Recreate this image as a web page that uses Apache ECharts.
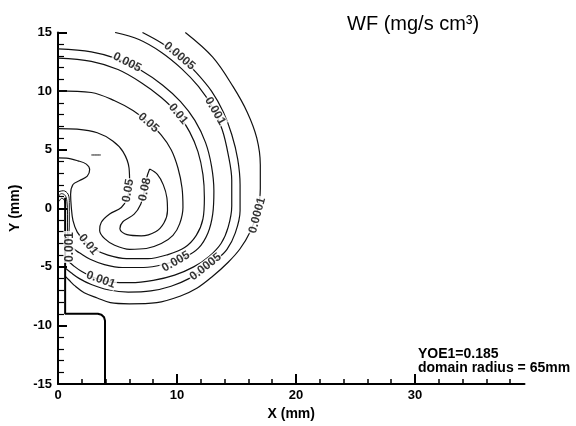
<!DOCTYPE html>
<html><head><meta charset="utf-8">
<script src="https://cdn.jsdelivr.net/npm/echarts@6/dist/echarts.min.js"></script>
<style>html,body{margin:0;padding:0;background:#fff}#c{width:576px;height:426px}</style>
</head><body><div id="c"></div>
<script>
// ---- axis ticks ----
const xTickValues = [0, 10, 20, 30];
const xMinorTickValues = [2, 4, 6, 8, 12, 14, 16, 18, 22, 24, 26, 28, 32, 34, 36, 38];
const yTickValues = [-15, -10, -5, 0, 5, 10, 15];

// ---- contour lines (x mm, y mm) ----
const c0p0001 = [[10.7,15],[13.0,12.9],[14.7,10.4],[15.9,8.2],[16.7,6.0],[17.0,3.7],[17.0,1.7],[16.75,-0.3],[16.15,-2.0],[15.3,-3.45],[14.3,-4.6],[13.0,-5.8],[11.7,-6.8],[10.25,-7.5],[8.3,-8.05],[6.0,-8.15],[4.4,-8.05],[3.3,-7.65],[2.2,-7.2],[1.4,-6.6],[0.9,-6.1],[0.6,-5.8]];
const c0p0005 = [[7.1,15],[8.7,14.1],[10.2,13.0],[11.6,11.6],[12.9,10.0],[13.9,8.2],[14.6,6.3],[15.1,4.2],[15.3,2.0],[15.3,-0.2],[14.9,-2.1],[14.2,-3.5],[13.3,-4.4],[12.4,-5.05],[11.0,-6.0],[9.5,-6.65],[7.8,-7.05],[5.9,-7.15],[4.2,-6.95],[2.8,-6.5],[1.8,-6.0],[1.1,-5.5],[0.6,-5.1]];
const c0p001 = [[4.8,15],[6.8,14.4],[8.7,13.3],[10.4,11.9],[11.8,10.4],[13.0,8.6],[13.8,6.7],[14.3,4.6],[14.6,2.4],[14.6,0.2],[14.3,-1.6],[13.7,-3.0],[12.7,-4.1],[11.4,-5.0],[9.8,-5.7],[8.0,-6.15],[6.1,-6.35],[4.5,-6.3],[3.1,-5.95],[2.0,-5.4],[1.3,-4.9],[0.85,-4.5],[0.6,-4.3]];
const c0p005 = [[0,13.6],[2.8,13.35],[5.0,12.75],[7.0,11.75],[8.8,10.5],[10.3,9.1],[11.5,7.5],[12.4,5.6],[12.9,3.6],[13.1,1.5],[13.0,-0.5],[12.6,-2.1],[11.8,-3.4],[10.6,-4.2],[9.0,-4.75],[7.2,-5.05],[5.4,-5.05],[3.9,-4.8],[2.7,-4.35],[1.8,-3.8],[1.2,-3.4],[0.6,-3.2]];
const c0p01 = [[0,12.82],[2.8,12.54],[5.04,11.84],[7.0,10.72],[8.68,9.46],[10.08,8.06],[11.06,6.52],[11.76,4.84],[12.18,2.88],[12.3,0.91],[12.18,-0.91],[11.62,-2.31],[10.64,-3.35],[9.24,-3.95],[7.56,-4.3],[5.74,-4.3],[4.2,-4.0],[3.08,-3.5],[2.24,-2.8],[1.62,-2.03],[1.26,-1.05],[1.12,0.07],[1.06,1.19],[1.26,2.03],[1.82,2.37],[2.46,2.74],[2.66,3.3],[2.38,3.77],[1.68,4.05],[0.7,4.28],[0,4.3]];
const c0p05 = [[0,10.02],[2.8,9.88],[4.76,9.18],[6.3,8.34],[7.56,7.36],[8.68,6.24],[9.52,4.98],[10.08,3.44],[10.42,1.75],[10.5,0.07],[10.22,-1.33],[9.66,-2.31],[8.68,-3.01],[7.42,-3.43],[6.02,-3.5],[4.76,-3.15],[3.92,-2.59],[3.5,-1.89],[3.64,-1.19],[4.34,-0.49],[5.32,0.07],[5.83,0.91],[6.02,2.03],[5.97,3.44],[5.46,4.84],[4.6,5.75],[3.3,6.45],[1.6,6.75],[0,6.8]];
const c0p08 = [[7.7,3.35],[8.35,2.9],[8.85,2.0],[9.15,0.9],[9.2,-0.2],[8.9,-1.25],[8.2,-2.0],[7.0,-2.35],[5.8,-2.25],[5.2,-1.75],[5.45,-1.15],[6.4,-0.5],[6.95,0.35],[7.25,1.45],[7.45,2.6],[7.7,3.35]];
const tipA = [[0,1.0],[0.3,1.25],[0.6,1.1],[0.75,0.6],[0.8,-0.5],[0.8,-2.0],[0.75,-2.8],[0.6,-3.0]];
const tipB = [[0.1,0.6],[0.3,0.85],[0.5,0.75],[0.6,0.4]];
const tipC = [[0,1.4],[0.45,1.5],[0.85,1.2],[0.95,0.5],[0.95,-1.0],[0.92,-2.2],[0.8,-2.9],[0.6,-3.1]];
const fragment = [[2.8,4.55],[3.6,4.55]];

// ---- nozzle / wall outline ----
const nozzle = [[0.6,0.9],[0.6,-9],[3.35,-9],[3.65,-9.08],[3.87,-9.3],[3.95,-9.6],[3.95,-15]];

// ---- contour labels: text, x, y, angle ----
const contourLabels = [
  ['0.0001', 16.75, -0.6, 75],
  ['0.0005', 10.2, 13.0, -40],
  ['0.001', 13.2, 8.3, -60],
  ['0.005', 5.8, 12.45, -27],
  ['0.01', 10.1, 8.05, -50],
  ['0.05', 7.6, 7.3, -42],
  ['0.05', 5.9, 1.5, 80],
  ['0.08', 7.3, 1.6, 78],
  ['0.01', 2.55, -3.1, -50],
  ['0.001', 3.6, -6.1, -20],
  ['0.005', 9.9, -4.55, 30],
  ['0.0005', 12.4, -5.0, 38],
  ['0.001', 0.95, -3.3, 90]
];

const FONT = 'Liberation Sans, Arial, sans-serif';
const chart = echarts.init(document.getElementById('c'), null, {renderer: 'canvas'});

function contour(data, w) {
  return {type: 'line', data: data, symbol: 'none', smooth: 0.35, silent: true,
    lineStyle: {color: '#111', width: w || 1.2}, z: 2};
}

chart.setOption({
  animation: false,
  backgroundColor: '#fff',
  grid: {left: 58, right: 51.5, top: 32.5, bottom: 36.5},
  xAxis: [{
    type: 'value', min: 0, max: 39.2, interval: 10,
    axisLine: {onZero: false, lineStyle: {color: '#000', width: 2}},
    axisTick: {inside: true, length: 10, customValues: xTickValues, lineStyle: {color: '#000', width: 2}},
    minorTick: {show: false},
    axisLabel: {customValues: xTickValues, color: '#000', fontSize: 13, fontWeight: 'bold', fontFamily: FONT, margin: 5},
    splitLine: {show: false},
    name: 'X (mm)', nameLocation: 'middle', nameGap: 20,
    nameTextStyle: {color: '#000', fontSize: 14, fontWeight: 'bold', fontFamily: FONT}
  }, {
    type: 'value', min: 0, max: 39.2, position: 'bottom',
    axisLine: {show: false, onZero: false},
    axisTick: {show: true, inside: true, length: 5, customValues: xMinorTickValues, lineStyle: {color: '#000', width: 1.5}},
    axisLabel: {show: false},
    splitLine: {show: false}
  }],
  yAxis: {
    type: 'value', min: -15, max: 15, interval: 5,
    axisLine: {onZero: false, lineStyle: {color: '#000', width: 2}},
    axisTick: {inside: true, length: 9, customValues: yTickValues, lineStyle: {color: '#000', width: 2}},
    minorTick: {show: true, splitNumber: 5, length: 6, lineStyle: {color: '#000', width: 1.2}},
    axisLabel: {customValues: yTickValues, color: '#000', fontSize: 13, fontWeight: 'bold', fontFamily: FONT, margin: 6},
    splitLine: {show: false},
    name: 'Y (mm)', nameLocation: 'middle', nameGap: 32,
    nameTextStyle: {color: '#000', fontSize: 14, fontWeight: 'bold', fontFamily: FONT}
  },
  graphic: [
    {type: 'text', left: 347, top: 14, style: {text: 'WF (mg/s cm³)', fill: '#000', font: '20px ' + FONT}},
    {type: 'text', left: 418, top: 347, style: {text: 'YOE1=0.185', fill: '#000', font: 'bold 14px ' + FONT}},
    {type: 'text', left: 418, top: 361, style: {text: 'domain radius = 65mm', fill: '#000', font: 'bold 14px ' + FONT}}
  ],
  series: [
    contour(c0p0001), contour(c0p0005), contour(c0p001), contour(c0p005),
    contour(c0p01), contour(c0p05), contour(c0p08),
    contour(tipA, 1), contour(tipB, 1), contour(tipC, 1), contour(fragment, 1),
    {type: 'line', data: nozzle, symbol: 'none', silent: true, lineStyle: {color: '#000', width: 2}, z: 3},
    {
      type: 'scatter', silent: true, symbolSize: 1, itemStyle: {color: 'rgba(0,0,0,0)'}, z: 5,
      label: {show: true, position: 'inside', color: '#000', fontSize: 12, fontWeight: 'bold',
        fontFamily: FONT, backgroundColor: '#fff', padding: [0, 1]},
      data: contourLabels.map(function (d) {
        return {value: [d[1], d[2]], label: {formatter: d[0], rotate: d[3]}};
      })
    }
  ]
});
</script>
</body></html>
